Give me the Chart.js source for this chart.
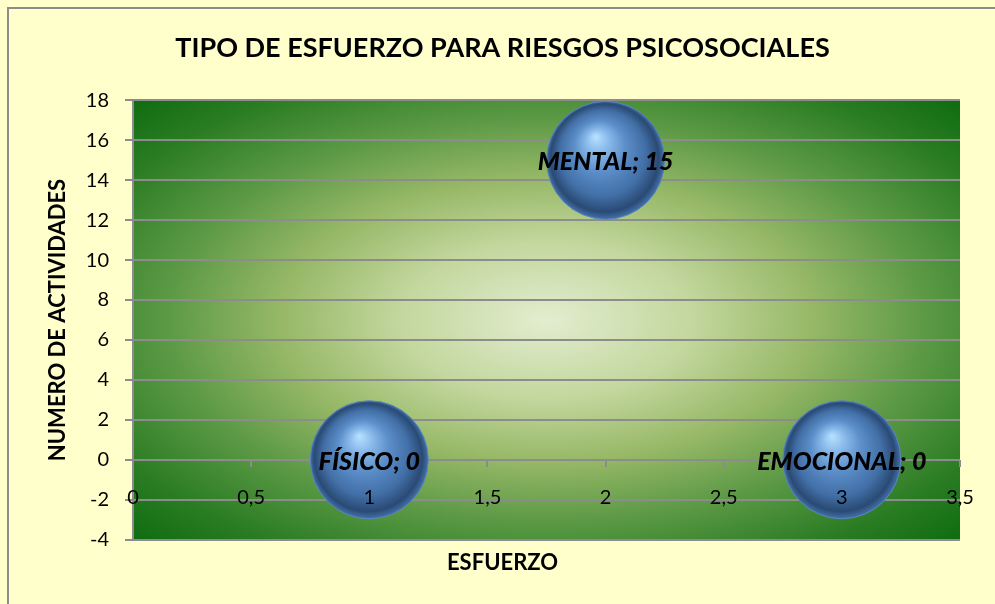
<!DOCTYPE html>
<html>
<head>
<meta charset="utf-8">
<script src="https://cdn.jsdelivr.net/npm/chart.js@4/dist/chart.umd.min.js"></script>
<style>
    body { margin: 0; background: #FFFFCC; }
    #wrap { width: 995px; height: 604px; }
</style>
</head>
<body>
<div id="wrap"><canvas id="chart" width="995" height="604"></canvas></div>
<script>
// Data
const categories = ['FÍSICO', 'MENTAL', 'EMOCIONAL'];
const esfuerzoX = [1, 2, 3];
const actividades = [0, 15, 0];
const xTicks = [0, 0.5, 1, 1.5, 2, 2.5, 3, 3.5];
const yTicks = [-4, -2, 0, 2, 4, 6, 8, 10, 12, 14, 16, 18];

const FONT = 'Lato, "Open Sans", sans-serif';

// bubbles may overflow the plot area, don't let their radius pad the layout
Chart.BubbleController.prototype.getMaxOverflow = function () { return 0; };

// Background, frame and plot area gradient
const backgroundPlugin = {
    id: 'backgroundPlugin',
    beforeDraw(chart) {
        const ctx = chart.ctx;
        const a = chart.chartArea;
        ctx.save();
        ctx.fillStyle = '#FFFFCC';
        ctx.fillRect(0, 0, chart.width, chart.height);
        // frame
        ctx.strokeStyle = '#8c8c8c';
        ctx.lineWidth = 2;
        ctx.beginPath();
        ctx.moveTo(8, chart.height);
        ctx.lineTo(8, 8);
        ctx.lineTo(chart.width, 8);
        ctx.stroke();
        // radial gradient in plot area
        const cx = (a.left + a.right) / 2;
        const cy = (a.top + a.bottom) / 2;
        const hw = (a.right - a.left) / 2;
        const hh = (a.bottom - a.top) / 2;
        ctx.beginPath();
        ctx.rect(a.left, a.top, a.right - a.left, a.bottom - a.top);
        ctx.clip();
        ctx.translate(cx, cy);
        ctx.scale(hw, hh);
        const g = ctx.createRadialGradient(0, 0, 0, 0, 0, Math.SQRT2);
        g.addColorStop(0, '#e2edcf');
        g.addColorStop(0.25, '#c3d79e');
        g.addColorStop(0.45, '#98b968');
        g.addColorStop(0.65, '#5c9945');
        g.addColorStop(0.85, '#2a7c23');
        g.addColorStop(1, '#0f6c10');
        ctx.fillStyle = g;
        ctx.fillRect(-1, -1, 2, 2);
        ctx.restore();
    }
};

// Labels "NAME; value" on each bubble
const bubbleLabels = {
    id: 'bubbleLabels',
    afterDatasetsDraw(chart) {
        const ctx = chart.ctx;
        const meta = chart.getDatasetMeta(0);
        ctx.save();
        ctx.font = 'italic 900 25px ' + FONT;
        ctx.fillStyle = '#000';
        ctx.textAlign = 'center';
        ctx.textBaseline = 'middle';
        meta.data.forEach((el, i) => {
            ctx.fillText(categories[i] + '; ' + actividades[i], el.x, el.y + 2);
        });
        ctx.restore();
    }
};

function sphereFill(context) {
    const chart = context.chart;
    if (!chart.chartArea || !context.parsed) return '#4f81bd';
    const x = chart.scales.x.getPixelForValue(context.parsed.x);
    const y = chart.scales.y.getPixelForValue(context.parsed.y);
    const r = 60;
    const g = chart.ctx.createRadialGradient(x - 10, y - 24, 0, x, y, r);
    g.addColorStop(0, '#b8e2ff');
    g.addColorStop(0.18, '#8cbcec');
    g.addColorStop(0.42, '#5d8fca');
    g.addColorStop(0.72, '#416ea5');
    g.addColorStop(0.9, '#2a4a74');
    g.addColorStop(1, '#4777b2');
    return g;
}

const points = esfuerzoX.map((x, i) => ({ x: x, y: actividades[i] }));

new Chart(document.getElementById('chart'), {
    type: 'bubble',
    data: {
        datasets: [{
            label: 'ESFUERZO',
            data: points,
            radius: 59,
            backgroundColor: sphereFill,
            borderColor: '#5a86c0',
            borderWidth: 1,
            hoverRadius: 0
        }]
    },
    options: {
        responsive: false,
        animation: false,
        layout: { padding: { left: 45, right: 35, top: 20, bottom: 18 } },
        plugins: {
            legend: { display: false },
            tooltip: { enabled: false },
            title: {
                display: true,
                text: 'TIPO DE ESFUERZO PARA RIESGOS PSICOSOCIALES',
                color: '#000',
                font: { family: FONT, size: 27, weight: 'bold' },
                padding: { top: 12, bottom: 36 }
            },
            subtitle: {
                display: true,
                position: 'bottom',
                text: 'ESFUERZO',
                color: '#000',
                font: { family: FONT, size: 22, weight: 'bold' },
                padding: { top: 10, bottom: 10 }
            }
        },
        scales: {
            x: {
                type: 'linear',
                position: { y: 0 },
                min: 0,
                max: 3.5,
                afterBuildTicks(scale) {
                    scale.ticks = xTicks.map(v => ({ value: v }));
                },
                ticks: {
                    z: 1, // tick labels sit on top of the bubbles
                    color: '#000',
                    font: { family: FONT, size: 20 },
                    padding: 19,
                    maxRotation: 0,
                    autoSkip: false,
                    callback: v => String(v).replace('.', ',')
                },
                grid: {
                    drawOnChartArea: false,
                    drawTicks: true,
                    tickLength: 7,
                    color: '#8c8c8c',
                    lineWidth: 2
                },
                border: { display: false }
            },
            y: {
                min: -4,
                max: 18,
                afterBuildTicks(scale) {
                    scale.ticks = yTicks.map(v => ({ value: v }));
                },
                afterFit(scale) {
                    scale.width = 88;
                },
                title: {
                    display: true,
                    text: 'NUMERO DE ACTIVIDADES',
                    color: '#000',
                    font: { family: FONT, size: 22, weight: 'bold' },
                    padding: { top: 0, bottom: 0 }
                },
                ticks: {
                    color: '#000',
                    font: { family: FONT, size: 20 },
                    padding: 16,
                    autoSkip: false
                },
                grid: {
                    color: '#8c8c8c',
                    lineWidth: 2,
                    tickLength: 8
                },
                border: { color: '#8c8c8c', width: 2 }
            }
        }
    },
    plugins: [backgroundPlugin, bubbleLabels]
});
</script>
</body>
</html>
